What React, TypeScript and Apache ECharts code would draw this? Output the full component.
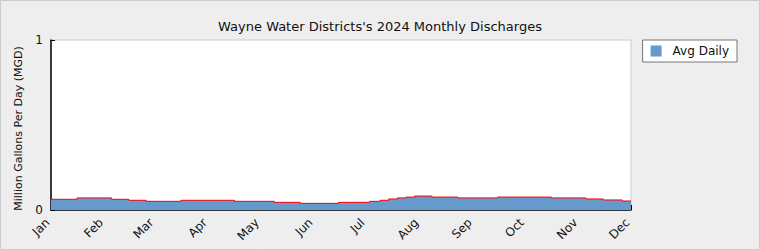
import React, { useEffect, useRef } from "react";
import * as echarts from "echarts";

const title = "Wayne Water Districts's 2024 Monthly Discharges";
const yAxisName = "Million Gallons Per Day (MGD)";
const seriesName = "Avg Daily";
const monthLabels = ["Jan", "Feb", "Mar", "Apr", "May", "Jun", "Jul", "Aug", "Sep", "Oct", "Nov", "Dec"];
const stepDates = [
  "2024-01-01", "2024-01-16", "2024-02-05", "2024-02-15", "2024-02-25", "2024-03-16",
  "2024-04-16", "2024-05-09", "2024-05-24", "2024-06-15", "2024-07-03", "2024-07-09",
  "2024-07-14", "2024-07-19", "2024-07-24", "2024-07-29", "2024-08-08", "2024-08-23",
  "2024-09-15", "2024-10-16", "2024-11-05", "2024-11-15", "2024-11-26", "2024-12-01",
];
const avgDaily = [
  0.063, 0.071, 0.063, 0.057, 0.051, 0.057,
  0.051, 0.045, 0.039, 0.045, 0.051, 0.057,
  0.065, 0.071, 0.076, 0.082, 0.076, 0.071,
  0.076, 0.071, 0.065, 0.059, 0.053, 0.053,
];
const yTicks = [0, 1];

const FONT = "DejaVu Sans";

export default function App() {
  const ref = useRef<HTMLDivElement>(null);
  useEffect(() => {
    document.body.style.margin = "0";
    const chart = echarts.init(ref.current!, null, { renderer: "svg" });
    const data = stepDates.map((d, i) => [new Date(d + "T00:00:00").getTime(), avgDaily[i]]);
    chart.setOption({
      animation: false,
      backgroundColor: "#eeeeee",
      textStyle: { fontFamily: FONT },
      title: {
        text: title,
        left: "center",
        top: 15,
        textStyle: { fontFamily: FONT, fontSize: 13, fontWeight: "normal", color: "#111" },
      },
      legend: {
        data: [{ name: seriesName, icon: "rect" }],
        right: 23,
        top: 40,
        orient: "vertical",
        backgroundColor: "#fff",
        borderColor: "#777",
        borderWidth: 1,
        borderRadius: 0,
        padding: [5, 8, 5, 8],
        itemWidth: 11,
        itemHeight: 11,
        itemGap: 4,
        textStyle: { fontFamily: FONT, fontSize: 12, color: "#111", padding: [0, 0, 0, 6] },
      },
      grid: {
        left: 51,
        right: 129,
        top: 40,
        bottom: 40,
        show: true,
        backgroundColor: "#ffffff",
        borderColor: "#cccccc",
        borderWidth: 1,
      },
      xAxis: {
        type: "time",
        min: new Date("2024-01-01T00:00:00").getTime(),
        max: new Date("2024-12-01T00:00:00").getTime(),
        splitNumber: 11,
        axisLine: { show: true, lineStyle: { color: "#000", width: 1.5 } },
        axisTick: { show: true, inside: true, length: 5, lineStyle: { color: "#000" } },
        splitLine: { show: false },
        axisLabel: {
          rotate: 45,
          fontFamily: FONT,
          fontSize: 12,
          color: "#111",
          margin: 7,
          padding: [0, 5, 0, 0],
          showMinLabel: true,
          showMaxLabel: true,
          hideOverlap: false,
          formatter: (v: number) => monthLabels[new Date(v).getMonth()],
        },
      },
      yAxis: {
        type: "value",
        min: yTicks[0],
        max: yTicks[yTicks.length - 1],
        interval: 1,
        name: yAxisName,
        nameLocation: "middle",
        nameGap: 27,
        nameTextStyle: { fontFamily: FONT, fontSize: 11, color: "#111", padding: [0, 7, 0, 0] },
        axisLine: { show: true, lineStyle: { color: "#000", width: 1.5 } },
        axisTick: { show: true, inside: true, length: 4, lineStyle: { color: "#000" } },
        splitLine: { show: false },
        axisLabel: { fontFamily: FONT, fontSize: 12, color: "#111", margin: 8 },
      },
      series: [
        {
          name: seriesName,
          type: "line",
          step: "end",
          data,
          symbol: "none",
          color: "#6699cc",
          lineStyle: { color: "#ff0000", width: 1 },
          areaStyle: { color: "#6699cc", opacity: 1 },
        },
      ],
      graphic: [
        {
          type: "rect",
          shape: { x: 0.5, y: 0.5, width: 759, height: 249 },
          style: { fill: "none", stroke: "#cccccc", lineWidth: 1 },
          silent: true,
        },
      ],
    });
    return () => chart.dispose();
  }, []);
  return <div ref={ref} style={{ width: 760, height: 250 }} />;
}
